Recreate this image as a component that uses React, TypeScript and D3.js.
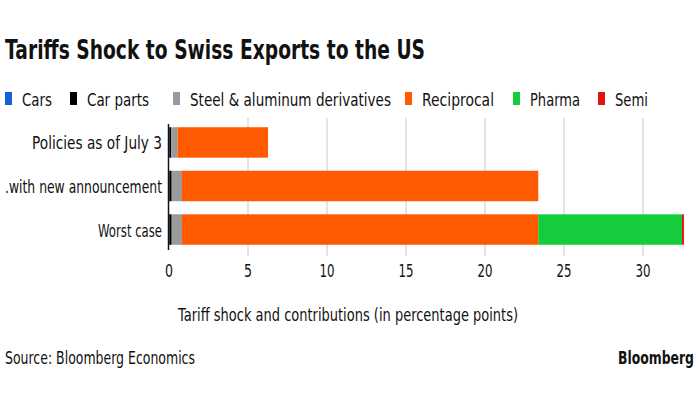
import { useEffect, useRef } from 'react'
import * as d3 from 'd3'

const categories = ['Policies as of July 3', '.with new announcement', 'Worst case']
const seriesNames = ['Cars', 'Car parts', 'Steel & aluminum derivatives', 'Reciprocal', 'Pharma', 'Semi']
const seriesColors = ['#1560d8', '#000000', '#9a9a9a', '#ff5a00', '#17cc3c', '#e0140f']
const cars = [0.02, 0.02, 0.02]
const carParts = [0.12, 0.15, 0.15]
const steel = [0.4, 0.65, 0.65]
const reciprocal = [5.73, 22.55, 22.55]
const pharma = [0, 0, 9.1]
const semi = [0, 0, 0.12]
const xTicks = [0, 5, 10, 15, 20, 25, 30]

const FONT = "'DejaVu Sans', sans-serif"

const App = () => {
  const svgRef = useRef<SVGSVGElement>(null)

  useEffect(() => {
    const svg = d3.select(svgRef.current)
    svg.selectAll('*').remove()

    const W = 700
    const margin = { top: 122, left: 169 }

    const addText = (g: any, txt: string, xPos: number, yPos: number, size: number, len: number, anchor = 'start', bold = false) =>
      g.append('text')
        .attr('x', xPos).attr('y', yPos)
        .attr('text-anchor', anchor)
        .attr('font-family', FONT).attr('font-size', size)
        .attr('font-weight', bold ? 'bold' : 'normal')
        .attr('fill', '#111')
        .attr('textLength', len).attr('lengthAdjust', 'spacingAndGlyphs')
        .text(txt)

    const values = [cars, carParts, steel, reciprocal, pharma, semi]
    const rows = categories.map((c, i) => {
      const r: any = { cat: c }
      seriesNames.forEach((s, j) => (r[s] = values[j][i]))
      return r
    })
    const stacked = d3.stack().keys(seriesNames)(rows)

    const x = d3.scaleLinear().domain([0, 30]).range([margin.left, 643])
    const y = d3.scaleBand().domain(categories).range([margin.top, 250]).paddingInner(0.3).paddingOuter(0.12)

    // title
    addText(svg, 'Tariffs Shock to Swiss Exports to the US', 5, 59, 27, 420, 'start', true)

    // legend
    const legendX = [5, 70, 173, 405, 513, 598]
    const legendW = [30, 62, 201, 72, 50, 33]
    seriesNames.forEach((s, i) => {
      svg.append('rect').attr('x', legendX[i]).attr('y', 92).attr('width', 7).attr('height', 13).attr('fill', seriesColors[i])
      addText(svg, s, legendX[i] + 17, 106, 18, legendW[i])
    })

    // grid
    svg.append('g').selectAll('line').data(xTicks.filter((d) => d > 0)).enter().append('line')
      .attr('x1', (d) => x(d)).attr('x2', (d) => x(d))
      .attr('y1', 118).attr('y2', 256)
      .attr('stroke', '#c8c8c8').attr('stroke-width', 1)

    // bars
    svg.append('g').selectAll('g').data(stacked).enter().append('g')
      .attr('fill', (d, i) => seriesColors[i])
      .selectAll('rect').data((d) => d).enter().append('rect')
      .attr('x', (d) => x(d[0]))
      .attr('y', (d) => y(d.data.cat as string)!)
      .attr('width', (d) => Math.max(0, x(d[1]) - x(d[0])))
      .attr('height', y.bandwidth())

    // y axis line
    svg.append('line').attr('x1', x(0) - 0.5).attr('x2', x(0) - 0.5).attr('y1', 124).attr('y2', 250)
      .attr('stroke', '#111').attr('stroke-width', 1.5)

    // category labels
    const catW = [130, 157, 64]
    categories.forEach((c, i) => {
      addText(svg, c, 162, y(c)! + y.bandwidth() / 2 + 7, 18, catW[i], 'end')
    })

    // x tick labels
    xTicks.forEach((t) => {
      addText(svg, String(t), x(t), 277, 18, String(t).length > 1 ? 15 : 8, 'middle')
    })

    // axis title
    addText(svg, 'Tariff shock and contributions (in percentage points)', 348, 321, 18, 340, 'middle')

    // footer
    addText(svg, 'Source: Bloomberg Economics', 5, 364, 18, 190)
    addText(svg, 'Bloomberg', W - 6, 364, 18, 76, 'end', true)
  }, [])

  return (
    <svg ref={svgRef} width={700} height={394}
      style={{ position: 'absolute', left: 0, top: 0, background: '#fff' }} />
  )
}

export default App
